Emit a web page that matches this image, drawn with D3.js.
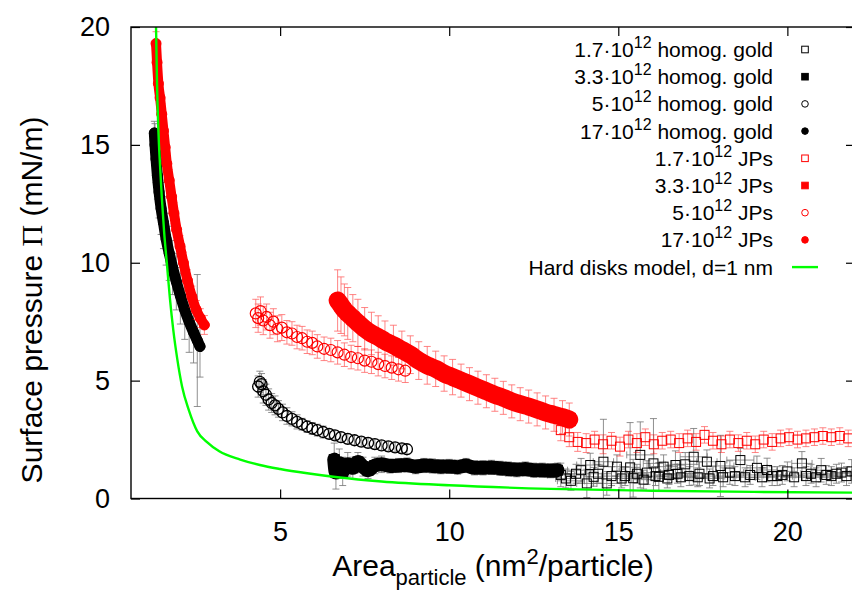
<!DOCTYPE html>
<html><head><meta charset="utf-8">
<script src="https://cdn.jsdelivr.net/npm/d3@7/dist/d3.min.js"></script>
<style>body{margin:0;background:#fff}svg{display:block}text{font-family:"Liberation Sans",Arial,sans-serif}</style>
</head><body><svg id="c" width="852" height="597"></svg>
<script>
// ---------- data ----------
const xDomain = [0.59, 22];
const yDomain = [0, 20];
const xTicks = [5, 10, 15, 20];
const yTicks = [0, 5, 10, 15, 20];

// 1.7e12 homogeneous gold (open black squares)
const hg17a_x = [13.3,13.45,13.6,13.75,13.9,14.07,14.17,14.27,14.4,14.56,14.66,14.8,14.96,15.1,15.2,15.35,15.44,15.55,15.65,15.75,15.85,16.04,16.1,16.2,16.34,16.45,16.5,16.69,16.75,16.85,16.98,17.1,17.23,17.35,17.4,17.62,17.7,17.8,18.02,18.1,18.3,18.45,18.61,18.75,18.9,19.1,19.25,19.4,19.55,19.7,19.85,20.0,20.2,20.43,20.55,20.7,20.85,21.0,21.15,21.3,21.45,21.6,21.75,21.9];
const hg17a_y = [1.0,0.85,0.75,1.05,1.2,0.64,1.42,0.92,1.05,1.56,0.64,0.95,1.35,0.85,0.95,1.32,0.86,1.05,1.85,0.8,1.1,1.49,0.95,0.92,1.35,0.85,1.0,1.42,1.05,0.9,1.45,0.95,1.77,0.9,1.05,1.56,0.85,0.95,1.38,0.9,1.1,0.95,1.63,0.9,1.0,1.3,0.9,1.21,0.95,0.95,1.0,1.15,0.9,1.49,0.95,1.05,0.9,1.2,1.0,0.95,1.05,1.1,0.95,1.15];
const hg17a_err = [0.5,0.4,0.4,0.4,0.5,0.6,0.5,0.4,0.4,1.8,0.5,0.4,0.5,0.4,0.4,1.9,0.8,0.4,1.4,0.4,0.5,1.9,0.4,0.6,0.5,0.4,0.4,0.6,0.4,0.4,0.5,0.4,1.2,0.4,0.5,0.5,0.4,0.4,1.3,0.4,0.5,0.4,0.5,0.4,0.4,0.5,0.4,0.5,0.4,0.4,0.4,0.4,0.4,0.5,0.4,0.4,0.4,0.5,0.4,0.4,0.4,0.4,0.4,0.5];
const hg17a_xerr = hg17a_x.map((d,i) => i % 2 ? 0.3 : 0.4);

// 3.3e12 homogeneous gold (filled black squares)
const hg33_x = [6.6,6.65,6.75,6.85,7.0,7.15,7.3,7.45,7.6,7.8,8.0,8.25,8.5,8.75,9.0,9.25,9.5,9.75,10.0,10.25,10.5,10.75,11.0,11.25,11.5,11.75,12.0,12.25,12.5,12.75,13.0,13.2];
const hg33_y = [1.65,1.1,1.5,1.15,1.45,1.3,1.55,1.35,1.2,1.4,1.45,1.38,1.4,1.42,1.35,1.4,1.38,1.35,1.36,1.33,1.4,1.3,1.3,1.32,1.28,1.25,1.22,1.25,1.2,1.2,1.18,1.2];
const hg33_err = [0.7,0.7,0.6,0.6,0.5,0.45,0.4,0.4,0.35,0.35,0.35,0.3,0.3,0.3,0.3,0.3,0.3,0.3,0.3,0.3,0.3,0.3,0.3,0.3,0.3,0.3,0.3,0.3,0.3,0.3,0.3,0.3];

// 5e12 homogeneous gold (open black circles)
const hg5_x = [4.35,4.40,4.45,4.50,4.58,4.66,4.75,4.85,4.95,5.07,5.2,5.35,5.5,5.65,5.8,5.95,6.1,6.27,6.45,6.62,6.8,7.0,7.2,7.4,7.6,7.8,8.0,8.2,8.4,8.6,8.75];
const hg5_y = [4.75,4.95,4.85,4.55,4.4,4.2,4.05,3.95,3.8,3.65,3.5,3.38,3.25,3.15,3.05,2.97,2.9,2.82,2.74,2.68,2.6,2.53,2.47,2.41,2.36,2.31,2.25,2.21,2.17,2.13,2.09];
const hg5_err = [0.45,0.45,0.45,0.5,0.45,0.45,0.4,0.4,0.35,0.35,0.35,0.3,0.3,0.25,0.25,0.25,0.25,0.25,0.2,0.2,0.2,0.2,0.2,0.2,0.2,0.2,0.2,0.2,0.2,0.2,0.2];

// 17e12 homogeneous gold (filled black circles)
const hg170_x = [1.28,1.30,1.33,1.37,1.42,1.48,1.55,1.63,1.72,1.82,1.93,2.05,2.18,2.31,2.44,2.55,2.63];
const hg170_y = [15.5,15.0,14.4,13.7,13.0,12.3,11.7,11.0,10.4,9.8,9.2,8.6,8.0,7.5,7.05,6.7,6.45];
const hg170_err = [0.5,0.9,1.0,1.0,1.1,1.1,1.1,1.1,1.15,1.15,1.2,1.2,1.25,1.3,1.3,2.8,1.3];

// 1.7e12 JPs (open red squares)
const jp17a_x = [13.3,13.55,13.8,14.05,14.3,14.55,14.8,15.05,15.3,15.55,15.8,16.05,16.3,16.55,16.8,17.05,17.3,17.55,17.8,18.05,18.3,18.55,18.8,19.05,19.3,19.55,19.8,20.05,20.3,20.55,20.8,21.05,21.3,21.55,21.8];
const jp17a_y = [2.9,2.6,2.4,2.35,2.5,2.3,2.45,2.2,2.5,2.35,2.6,2.3,2.45,2.5,2.35,2.55,2.4,2.7,2.45,2.3,2.5,2.35,2.45,2.3,2.5,2.4,2.55,2.6,2.5,2.55,2.6,2.65,2.6,2.65,2.55];
const jp17a_err = [0.45,0.4,0.4,0.4,0.35,0.4,0.35,0.4,0.35,0.4,0.35,0.4,0.35,0.35,0.4,0.35,0.35,0.35,0.35,0.35,0.35,0.35,0.35,0.35,0.35,0.35,0.35,0.35,0.35,0.35,0.35,0.35,0.35,0.35,0.35];

// 3.3e12 JPs (filled red squares)
const jp33_x = [6.7,6.8,6.9,7.0,7.15,7.3,7.5,7.7,7.9,8.1,8.35,8.6,8.85,9.1,9.35,9.6,9.85,10.1,10.35,10.6,10.85,11.1,11.35,11.6,11.85,12.1,12.35,12.6,12.85,13.1,13.35,13.55];
const jp33_y = [8.4,8.2,8.0,7.85,7.65,7.45,7.2,7.0,6.85,6.68,6.5,6.3,6.1,5.85,5.65,5.5,5.3,5.15,5.0,4.85,4.7,4.55,4.4,4.27,4.12,4.0,3.9,3.78,3.65,3.55,3.45,3.35];
const jp33_err = [1.3,1.2,1.1,1.1,1.0,1.0,0.9,0.9,0.9,0.85,0.85,0.8,0.8,0.8,0.8,0.75,0.75,0.75,0.7,0.7,0.7,0.7,0.7,0.7,0.7,0.7,0.7,0.7,0.7,0.7,0.7,0.7];

// 5e12 JPs (open red circles)
const jp5_x = [4.28,4.35,4.42,4.5,4.6,4.7,4.8,4.92,5.05,5.2,5.35,5.5,5.65,5.8,5.95,6.1,6.3,6.5,6.7,6.9,7.1,7.3,7.5,7.7,7.9,8.1,8.3,8.5,8.7];
const jp5_y = [7.85,7.65,7.95,7.55,7.7,7.35,7.5,7.2,7.25,7.05,7.0,6.85,6.8,6.65,6.6,6.45,6.35,6.3,6.2,6.1,6.0,5.95,5.85,5.8,5.7,5.62,5.55,5.48,5.42];
const jp5_err = [0.6,0.6,0.6,0.6,0.55,0.55,0.55,0.55,0.55,0.5,0.5,0.5,0.5,0.5,0.5,0.5,0.5,0.5,0.5,0.5,0.5,0.5,0.5,0.5,0.5,0.5,0.5,0.5,0.5];

// 17e12 JPs (filled red circles)
const jp170_x = [1.33,1.36,1.40,1.45,1.50,1.55,1.60,1.65,1.72,1.79,1.86,1.94,2.04,2.14,2.26,2.39,2.52,2.64,2.76];
const jp170_y = [19.3,18.5,17.6,17.0,16.3,15.6,14.9,14.2,13.5,12.8,12.1,11.4,10.7,10.0,9.25,8.56,8.0,7.65,7.36];
const jp170_err = [0.5,0.45,0.45,0.45,0.45,0.45,0.45,0.45,0.45,0.45,0.45,0.45,0.45,0.45,0.45,0.45,0.4,0.4,0.4];

// Hard disks model, d = 1 nm (green line)
const model_x = [1.33,1.36,1.40,1.45,1.50,1.57,1.65,1.74,1.84,1.96,2.1,2.3,2.55,2.83,3.2,3.82,4.4,5.0,5.8,6.7,8,10,13,16,19,22];
const model_y = [20,17.6,15.6,14.1,12.8,11.3,9.98,8.5,7.15,5.9,4.75,3.75,2.85,2.4,2.0,1.65,1.42,1.25,1.07,0.9,0.72,0.56,0.41,0.33,0.28,0.25];

const legendPrefix = ["1.7·10","3.3·10","5·10","17·10","1.7·10","3.3·10","5·10","17·10"];
const legendSup = "12";
const legendSuffix = [" homog. gold"," homog. gold"," homog. gold"," homog. gold"," JPs"," JPs"," JPs"," JPs"];
const modelLabel = "Hard disks model, d=1 nm";

// ---------- styles ----------
const zip = (xs, ys, es, xe) => xs.map((x,i) => ({x, y: ys[i], e: es[i], xe: xe ? xe[i] : 0}));
const series = [
  {pts: zip(hg17a_x, hg17a_y, hg17a_err, hg17a_xerr), color:"#000", shape:"square", fill:false, band:0, size:4.5, sw:1},
  {pts: zip(hg33_x, hg33_y, hg33_err), color:"#000", shape:"square", fill:true, band:14, size:5, sw:1},
  {pts: zip(hg5_x, hg5_y, hg5_err), color:"#000", shape:"circle", fill:false, band:0, size:5.5, sw:1.3},
  {pts: zip(hg170_x, hg170_y, hg170_err), color:"#000", shape:"circle", fill:true, band:11, size:5, sw:1},
  {pts: zip(jp17a_x, jp17a_y, jp17a_err), color:"#ff0000", shape:"square", fill:false, band:0, size:4.5, sw:1},
  {pts: zip(jp33_x, jp33_y, jp33_err), color:"#ff0000", shape:"square", fill:true, band:18, size:6, sw:1},
  {pts: zip(jp5_x, jp5_y, jp5_err), color:"#ff0000", shape:"circle", fill:false, band:0, size:5.5, sw:1.2},
  {pts: zip(jp170_x, jp170_y, jp170_err), color:"#ff0000", shape:"circle", fill:true, band:10, size:5, sw:1}
];

// ---------- drawing ----------
const svg = d3.select("#c");
const L = 131, R = 855, T = 27, B = 498.5;
const X = d3.scaleLinear().domain(xDomain).range([L, R]);
const Y = d3.scaleLinear().domain(yDomain).range([B, T]);

svg.append("rect").attr("width",852).attr("height",597).attr("fill","#fff");
svg.append("clipPath").attr("id","clip").append("rect")
  .attr("x",L).attr("y",T).attr("width",R-L).attr("height",B-T);
const plot = svg.append("g").attr("clip-path","url(#clip)");

function marker(g, cx, cy, s, size, sw) {
  if (s.shape === "square") {
    g.append("rect").attr("x",cx-size).attr("y",cy-size).attr("width",2*size).attr("height",2*size)
      .attr("fill", s.fill ? s.color : "none").attr("stroke", s.color).attr("stroke-width",sw);
  } else {
    g.append("circle").attr("cx",cx).attr("cy",cy).attr("r",size)
      .attr("fill", s.fill ? s.color : "none").attr("stroke", s.color).attr("stroke-width",sw);
  }
}

series.forEach(s => {
  const g = plot.append("g");
  const eb = g.append("g").attr("stroke", s.color).attr("stroke-width",0.8)
    .attr("opacity", s.color === "#000" ? 0.55 : 0.6);
  s.pts.forEach(p => {
    const cx = X(p.x), y1 = Y(p.y - p.e), y2 = Y(p.y + p.e);
    eb.append("line").attr("x1",cx).attr("x2",cx).attr("y1",y1).attr("y2",y2);
    eb.append("line").attr("x1",cx-3.5).attr("x2",cx+3.5).attr("y1",y1).attr("y2",y1);
    eb.append("line").attr("x1",cx-3.5).attr("x2",cx+3.5).attr("y1",y2).attr("y2",y2);
    if (p.xe) {
      const xa = X(p.x - p.xe), xb = X(p.x + p.xe), cy = Y(p.y);
      eb.append("line").attr("x1",xa).attr("x2",xb).attr("y1",cy).attr("y2",cy);
      eb.append("line").attr("x1",xa).attr("x2",xa).attr("y1",cy-3.5).attr("y2",cy+3.5);
      eb.append("line").attr("x1",xb).attr("x2",xb).attr("y1",cy-3.5).attr("y2",cy+3.5);
    }
  });
  if (s.band) {
    g.append("path").datum(s.pts)
      .attr("d", d3.line().x(p => X(p.x)).y(p => Y(p.y)).curve(d3.curveMonotoneX))
      .attr("fill","none").attr("stroke", s.color).attr("stroke-width", s.band)
      .attr("stroke-linecap","round").attr("stroke-linejoin","round");
  }
  const mg = g.append("g");
  s.pts.forEach(p => marker(mg, X(p.x), Y(p.y), s, s.size, s.sw));
});

// model line
plot.append("path").datum(model_x.map((x,i) => ({x, y: model_y[i]})))
  .attr("d", d3.line().x(p => X(p.x)).y(p => Y(p.y)).curve(d3.curveMonotoneX))
  .attr("fill","none").attr("stroke","#00ff00").attr("stroke-width",2.4);

// axes
const axFont = 27;
const ax = [
  svg.append("g").attr("transform",`translate(0,${B})`)
    .call(d3.axisBottom(X).tickValues(xTicks).tickSizeInner(-9).tickSizeOuter(0).tickPadding(23).tickFormat(d3.format("d"))),
  svg.append("g").attr("transform",`translate(0,${T})`)
    .call(d3.axisTop(X).tickValues(xTicks).tickSizeInner(-9).tickSizeOuter(0).tickFormat("")),
  svg.append("g").attr("transform",`translate(${L},0)`)
    .call(d3.axisLeft(Y).tickValues(yTicks).tickSizeInner(-9).tickSizeOuter(0).tickPadding(21).tickFormat(d3.format("d"))),
  svg.append("g").attr("transform",`translate(${R},0)`)
    .call(d3.axisRight(Y).tickValues(yTicks).tickSizeInner(-9).tickSizeOuter(0).tickFormat(""))
];
ax.forEach(a => {
  a.select(".domain").remove();
  a.selectAll("line").attr("stroke","#000").attr("stroke-width",1.2);
  a.selectAll("text").attr("font-size",axFont).attr("fill","#000")
    .style("font-family",'"Liberation Sans",Arial,sans-serif');
});
svg.append("rect").attr("x",L).attr("y",T).attr("width",R-L).attr("height",B-T)
  .attr("fill","none").attr("stroke","#000").attr("stroke-width",1.4);

// axis titles
const xt = svg.append("text").attr("x",493).attr("y",576).attr("text-anchor","middle").attr("font-size",30).attr("fill","#000");
xt.append("tspan").text("Area");
xt.append("tspan").attr("dy",9).attr("font-size",22).text("particle");
xt.append("tspan").attr("dy",-9).text(" (nm");
xt.append("tspan").attr("dy",-12).attr("font-size",22).text("2");
xt.append("tspan").attr("dy",12).text("/particle)");

const yt = svg.append("text").attr("transform","translate(42,300) rotate(-90)").attr("text-anchor","middle")
  .attr("font-size",30).attr("fill","#000");
yt.append("tspan").text("Surface pressure ");
yt.append("tspan").style("font-family",'"Liberation Serif","DejaVu Serif",serif').text("\u03A0");
yt.append("tspan").text(" (mN/m)");

// legend
const lg = svg.append("g");
const rowY = i => 49.5 + i * 27.2;
const textX = 773, symX = 805;
series.forEach((s, i) => {
  const t = lg.append("text").attr("x",textX).attr("y",rowY(i)+7.5).attr("text-anchor","end")
    .attr("font-size",21).attr("fill","#000");
  t.append("tspan").text(legendPrefix[i]);
  t.append("tspan").attr("dy",-9).attr("font-size",16).text(legendSup);
  t.append("tspan").attr("dy",9).text(legendSuffix[i]);
  marker(lg, symX, rowY(i), s, 3.3, 1);
});
lg.append("text").attr("x",textX).attr("y",rowY(8)+7.5).attr("text-anchor","end")
  .attr("font-size",21).attr("fill","#000").text(modelLabel);
lg.append("line").attr("x1",792).attr("x2",818).attr("y1",rowY(8)).attr("y2",rowY(8))
  .attr("stroke","#00ff00").attr("stroke-width",2.4);
</script></body></html>
